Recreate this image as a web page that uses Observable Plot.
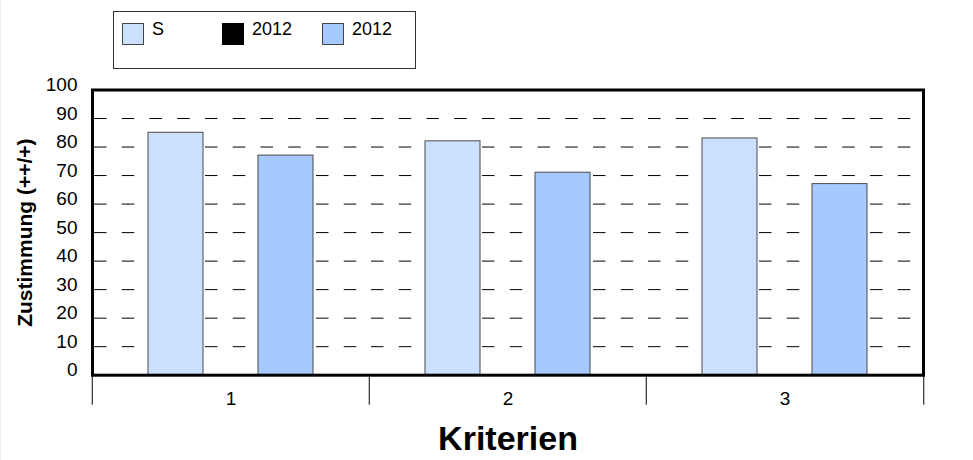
<!DOCTYPE html>
<html>
<head>
<meta charset="utf-8">
<script src="https://cdn.jsdelivr.net/npm/d3@7"></script>
<script src="https://cdn.jsdelivr.net/npm/@observablehq/plot@0.6"></script>
<style>
  body { margin: 0; background: #fff; }
  #wrap { position: relative; width: 973px; height: 460px; overflow: hidden; font-family: "Liberation Sans", Arial, sans-serif; }
  #wrap::before { content: ""; position: absolute; left: 0; top: 0; bottom: 0; width: 1px; background: #ececec; }
  #legend { position: absolute; left: 113px; top: 11px; width: 303px; height: 58px; border: 1px solid #333; box-sizing: border-box; background: #fff; }
  .item { position: absolute; top: 11px; height: 24px; }
  .sw { position: absolute; top: 0; left: 0; width: 22px; height: 22px; box-sizing: border-box; border: 1px solid #444; }
  .lab { position: absolute; left: 30px; top: -4px; font-size: 18px; color: #000; white-space: nowrap; line-height: 20px; }
  .fxlab { font-size: 19px; }
</style>
</head>
<body>
<div id="wrap"></div>
<script>
// ---- data ----
const criteria = ["1", "2", "3"];
const seriesKeys = ["S", "2012"];
const valuesS = [85, 82, 83];
const values2012 = [77, 71, 67];
const legendLabels = ["S", "2012", "2012"];
const legendColors = ["#cce0ff", "#000000", "#a6caff"];
const yTicks = [0, 10, 20, 30, 40, 50, 60, 70, 80, 90, 100];
const gridTicks = [10, 20, 30, 40, 50, 60, 70, 80, 90];
const yTitle = "Zustimmung (++/+)";
const xTitle = "Kriterien";

const table = criteria.flatMap((c, i) => [
  {crit: c, series: seriesKeys[0], value: valuesS[i]},
  {crit: c, series: seriesKeys[1], value: values2012[i]}
]);

const W = 973, H = 460;
const mL = 91, mR = 49.5, mT = 89.5, mB = 85.3;
const facetW = (W - mL - mR) / criteria.length;

const chart = Plot.plot({
  width: W,
  height: H,
  marginLeft: mL,
  marginRight: mR,
  marginTop: mT,
  marginBottom: mB,
  style: {fontFamily: "'Liberation Sans', Arial, sans-serif", background: "transparent", overflow: "visible"},
  fx: {domain: criteria, padding: 0, label: null, axis: null},
  x: {domain: seriesKeys, paddingInner: 0.5, paddingOuter: 0.5, axis: null},
  y: {domain: [0, 100], axis: null},
  color: {domain: seriesKeys, range: [legendColors[0], legendColors[2]]},
  marks: [
    Plot.ruleY(gridTicks, {y: d => d, stroke: "#000", strokeWidth: 1, strokeDasharray: "12.5,15.25", strokeDashoffset: -2}),
    Plot.barY(table, {fx: "crit", x: "series", y: "value", fill: "series", stroke: "#4a4a4a", strokeWidth: 1}),
    Plot.axisY({ticks: yTicks, tickSize: 0, tickPadding: 15, fontSize: 19, dy: -5, label: null, fill: "#000"}),
    Plot.text(criteria, {fx: d => d, text: d => d, frameAnchor: "bottom", dy: 24, lineAnchor: "middle", textAnchor: "middle", fontSize: 19, className: "fxlab", fill: "#000"}),
    Plot.axisFx({anchor: "bottom", tickSize: 30, text: null, label: null, dx: -facetW / 2, stroke: "#000"}),
    Plot.axisFx({anchor: "bottom", ticks: [criteria[criteria.length - 1]], tickSize: 30, text: null, label: null, dx: facetW / 2, stroke: "#000"}),
    Plot.frame({facet: "super", stroke: "#000", strokeWidth: 3}),
    Plot.text([yTitle], {facet: "super", text: d => d, frameAnchor: "left", dx: -67, rotate: -90, textAnchor: "middle", lineAnchor: "middle", fontSize: 21, fontWeight: "bold", fill: "#000"}),
    Plot.text([xTitle], {facet: "super", text: d => d, frameAnchor: "bottom", dy: 64, textAnchor: "middle", lineAnchor: "middle", fontSize: 34, fontWeight: "bold", fill: "#000"})
  ]
});

const wrap = document.getElementById("wrap");
wrap.appendChild(chart);

// legend (HTML, above the SVG)
const legend = document.createElement("div");
legend.id = "legend";
const itemX = [8, 108, 208];
legendLabels.forEach((lab, i) => {
  const it = document.createElement("div");
  it.className = "item";
  it.style.left = itemX[i] + "px";
  const sw = document.createElement("div");
  sw.className = "sw";
  sw.style.background = legendColors[i];
  if (legendColors[i] === "#000000") sw.style.borderColor = "#000";
  const t = document.createElement("div");
  t.className = "lab";
  t.textContent = lab;
  it.appendChild(sw);
  it.appendChild(t);
  legend.appendChild(it);
});
wrap.appendChild(legend);
</script>
</body>
</html>
